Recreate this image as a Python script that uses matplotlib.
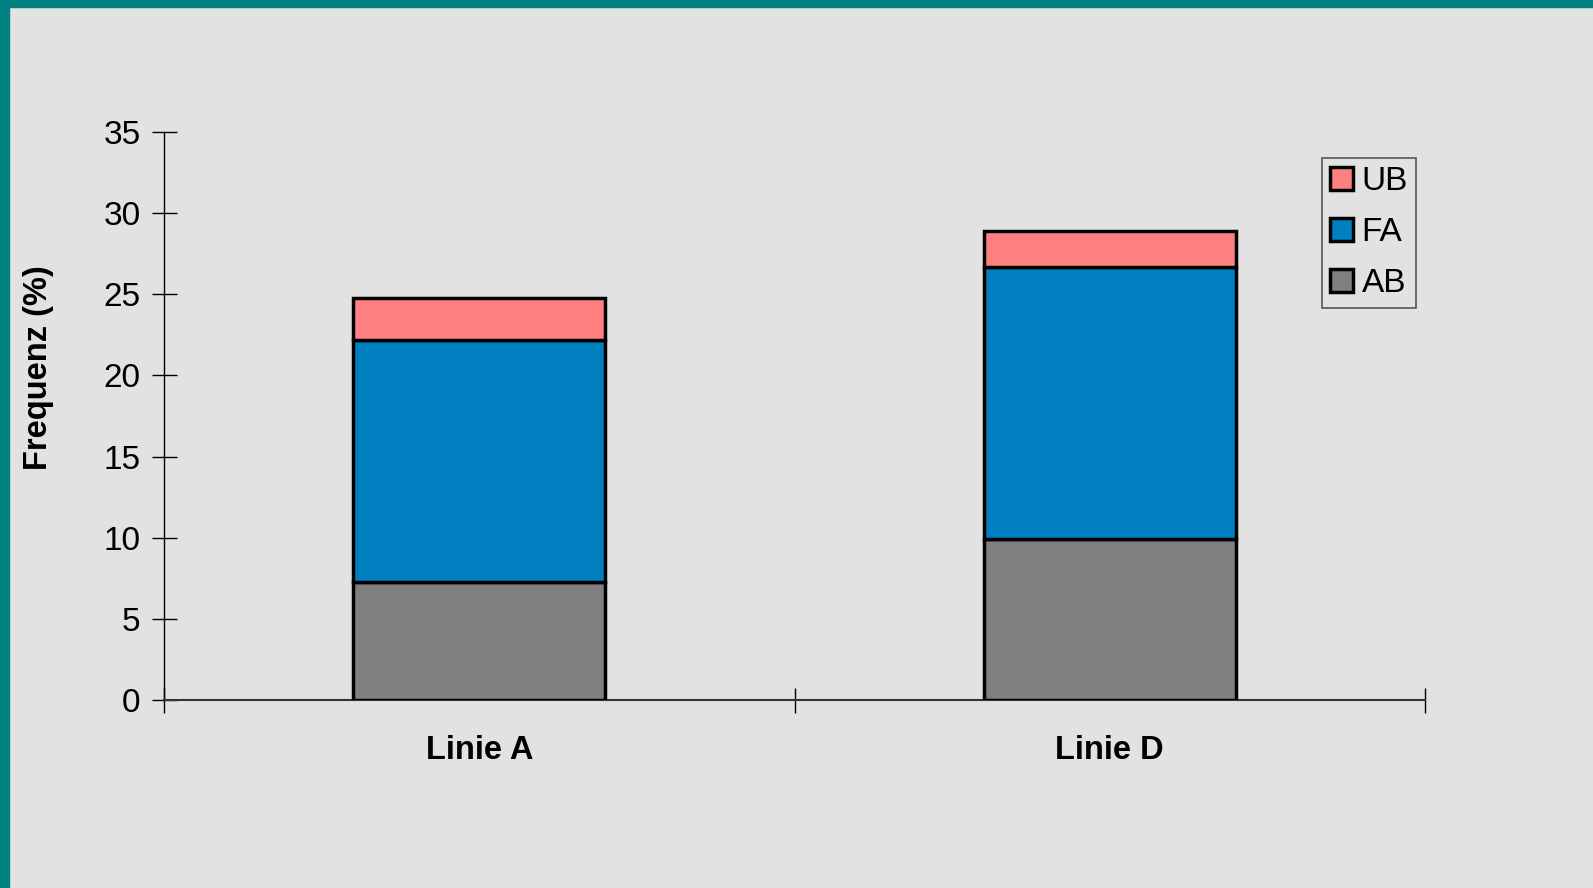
import matplotlib.pyplot as plt
from matplotlib.patches import Rectangle, Patch

# data
lines = ["Linie A", "Linie D"]
ab = [7.3, 9.9]
fa = [14.9, 16.8]
ub = [2.6, 2.2]
yticks = [0, 5, 10, 15, 20, 25, 30, 35]

plt.rcParams['font.family'] = ['Liberation Sans', 'DejaVu Sans']

fig = plt.figure(figsize=(15.93, 8.88), dpi=100)
fig.patch.set_facecolor('#e2e2e2')
# teal frame on top and left
fig.patches.append(Rectangle((0, 1 - 7 / 888), 1, 7 / 888, transform=fig.transFigure,
                             color='#008080', zorder=0))
fig.patches.append(Rectangle((0, 0), 9 / 1593, 1, transform=fig.transFigure,
                             color='#008080', zorder=0))

ax = fig.add_axes([0.103, 0.2117, 0.7915, 0.6397])
ax.set_facecolor('#e2e2e2')

x = range(len(lines))
w = 0.4
bottom_fa = ab
bottom_ub = [a + f for a, f in zip(ab, fa)]
ax.bar(x, ab, w, color='#808080', edgecolor='black', linewidth=2.5, zorder=3)
ax.bar(x, fa, w, bottom=bottom_fa, color='#0080c0', edgecolor='black', linewidth=2.5, zorder=3)
ax.bar(x, ub, w, bottom=bottom_ub, color='#ff8080', edgecolor='black', linewidth=2.5, zorder=3)

ax.set_xlim(-0.5, 1.5)
ax.set_ylim(0, 35)
ax.set_yticks(yticks)
ax.set_xticks([-0.5, 0.5, 1.5])
ax.set_xticklabels([])
ax.set_xticks(list(x), minor=True)
ax.set_xticklabels(lines, minor=True, fontsize=23.5, fontweight='bold')
ax.tick_params(axis='x', which='minor', length=0, pad=25)
ax.tick_params(axis='x', which='major', direction='inout', length=18, width=1)
ax.tick_params(axis='y', direction='inout', length=18, width=1, labelsize=24, pad=8)

for s in ['top', 'right']:
    ax.spines[s].set_visible(False)
ax.spines['left'].set_linewidth(1)
ax.spines['bottom'].set_linewidth(1.5)
ax.spines['bottom'].set_color('#333333')

fig.text(38.5 / 1593, 1 - 368 / 888, "Frequenz (%)", rotation=90, fontsize=23.5,
         fontweight='bold', ha='center', va='center')

handles = [Patch(facecolor='#ff8080', edgecolor='black', linewidth=2.5),
           Patch(facecolor='#0080c0', edgecolor='black', linewidth=2.5),
           Patch(facecolor='#808080', edgecolor='black', linewidth=2.5)]
leg = ax.legend(handles, ["UB", "FA", "AB"], loc='upper left',
                bbox_to_anchor=(0.918, 0.954), fontsize=24, frameon=True, fancybox=False,
                handlelength=0.7, handleheight=0.7, handletextpad=0.25,
                labelspacing=0.6, borderpad=0.25, borderaxespad=0)
leg.get_frame().set_facecolor('#e2e2e2')
leg.get_frame().set_edgecolor('#333333')
leg.get_frame().set_linewidth(1.2)

fig.savefig("out.png", dpi=100, facecolor=fig.get_facecolor())
